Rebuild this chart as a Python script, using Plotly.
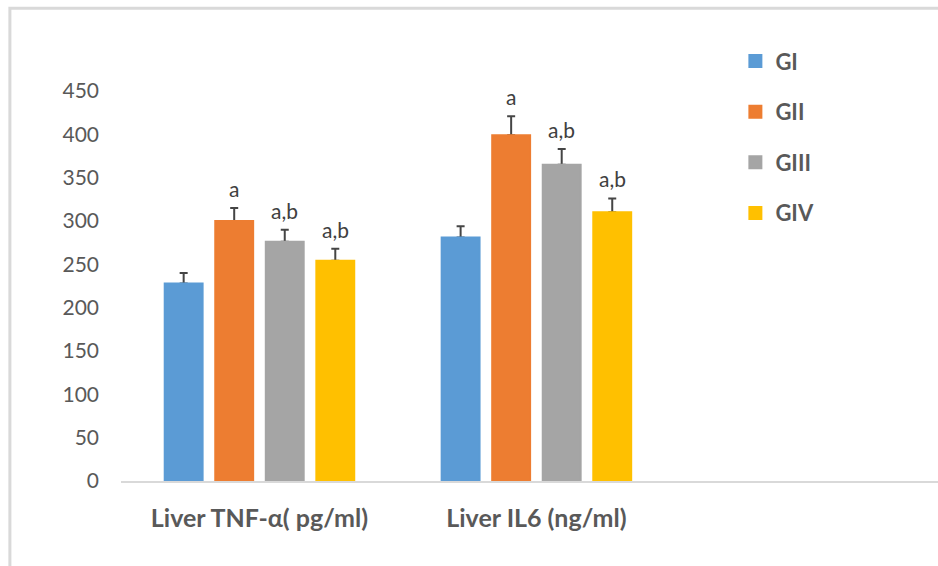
import plotly.graph_objects as go

categories = ["Liver TNF-α( pg/ml)", "Liver IL6 (ng/ml)", " "]
groups = ["GI", "GII", "GIII", "GIV"]
values = {
    "GI": [228, 281],
    "GII": [300, 399],
    "GIII": [276, 365],
    "GIV": [254, 310],
}
errors = {
    "GI": [12, 13],
    "GII": [15, 22],
    "GIII": [14, 18],
    "GIV": [14, 16],
}
letters = {
    "GI": ["", ""],
    "GII": ["a", "a"],
    "GIII": ["a,b", "a,b"],
    "GIV": ["a,b", "a,b"],
}
colors = {"GI": "#5B9BD5", "GII": "#ED7D31", "GIII": "#A5A5A5", "GIV": "#FFC000"}
y_ticks = [0, 50, 100, 150, 200, 250, 300, 350, 400, 450]

FONT = "Lato"
bargap = 0.27
bargroupgap = 0.25

fig = go.Figure()
# error bars first (transparent bars sharing offset groups) so the coloured bars cover the lower cap
for g in groups:
    fig.add_trace(go.Bar(
        x=categories[:2], y=values[g], offsetgroup=g, showlegend=False, hoverinfo="skip",
        marker=dict(color="rgba(0,0,0,0)", line=dict(width=0)),
        error_y=dict(type="data", array=errors[g], arrayminus=[0] * len(errors[g]),
                     symmetric=False, color="#454545", thickness=2, width=4),
    ))
for g in groups:
    fig.add_trace(go.Bar(
        name=g, x=categories[:2], y=values[g], offsetgroup=g,
        marker=dict(color=colors[g], line=dict(width=2, color=colors[g])),
        legendgroup=g,
    ))

# significance letters above the error bars
slot = (1 - bargap) / len(groups)
annotations = []
for i, g in enumerate(groups):
    off = (i - (len(groups) - 1) / 2) * slot
    for ci in range(2):
        if letters[g][ci]:
            annotations.append(dict(
                x=ci + off, y=values[g][ci] + errors[g][ci], xref="x", yref="y",
                text=letters[g][ci], showarrow=False, yanchor="bottom", yshift=5,
                font=dict(family=FONT, size=21, color="#404040"),
            ))

fig.update_layout(
    width=938, height=566,
    margin=dict(l=121, r=0, t=91, b=85),
    paper_bgcolor="white", plot_bgcolor="white",
    barmode="group", bargap=bargap, bargroupgap=bargroupgap,
    font=dict(family=FONT, color="#595959"),
    annotations=annotations,
    legend=dict(
        x=0.752, y=1.13, xanchor="left", yanchor="top",
        font=dict(family=FONT, size=22, color="#595959", weight="bold"),
        traceorder="grouped", tracegroupgap=19,
        bgcolor="rgba(0,0,0,0)", itemclick=False,
    ),
    xaxis=dict(
        type="category", categoryorder="array", categoryarray=categories,
        range=[-0.5, 2.45], showgrid=False, zeroline=False,
        showline=True, linecolor="#D9D9D9", linewidth=2,
        ticks="", ticklabelstandoff=14,
        tickfont=dict(family=FONT, size=25, color="#595959", weight="bold"),
    ),
    yaxis=dict(
        range=[0, 450], tickvals=y_ticks, showgrid=False, zeroline=False,
        showline=False, ticks="", ticklabelstandoff=21,
        tickfont=dict(family=FONT, size=21, color="#595959"),
    ),
    shapes=[dict(
        type="rect", xref="paper", yref="paper",
        x0=-0.136, x1=1.5, y0=-0.5, y1=1.212,
        line=dict(color="#D9D9D9", width=3), layer="below",
    )],
)

fig.write_html(
    "out.html",
    config={"displayModeBar": False},
    post_script="document.body.style.margin='0';document.body.style.overflow='hidden';",
)
